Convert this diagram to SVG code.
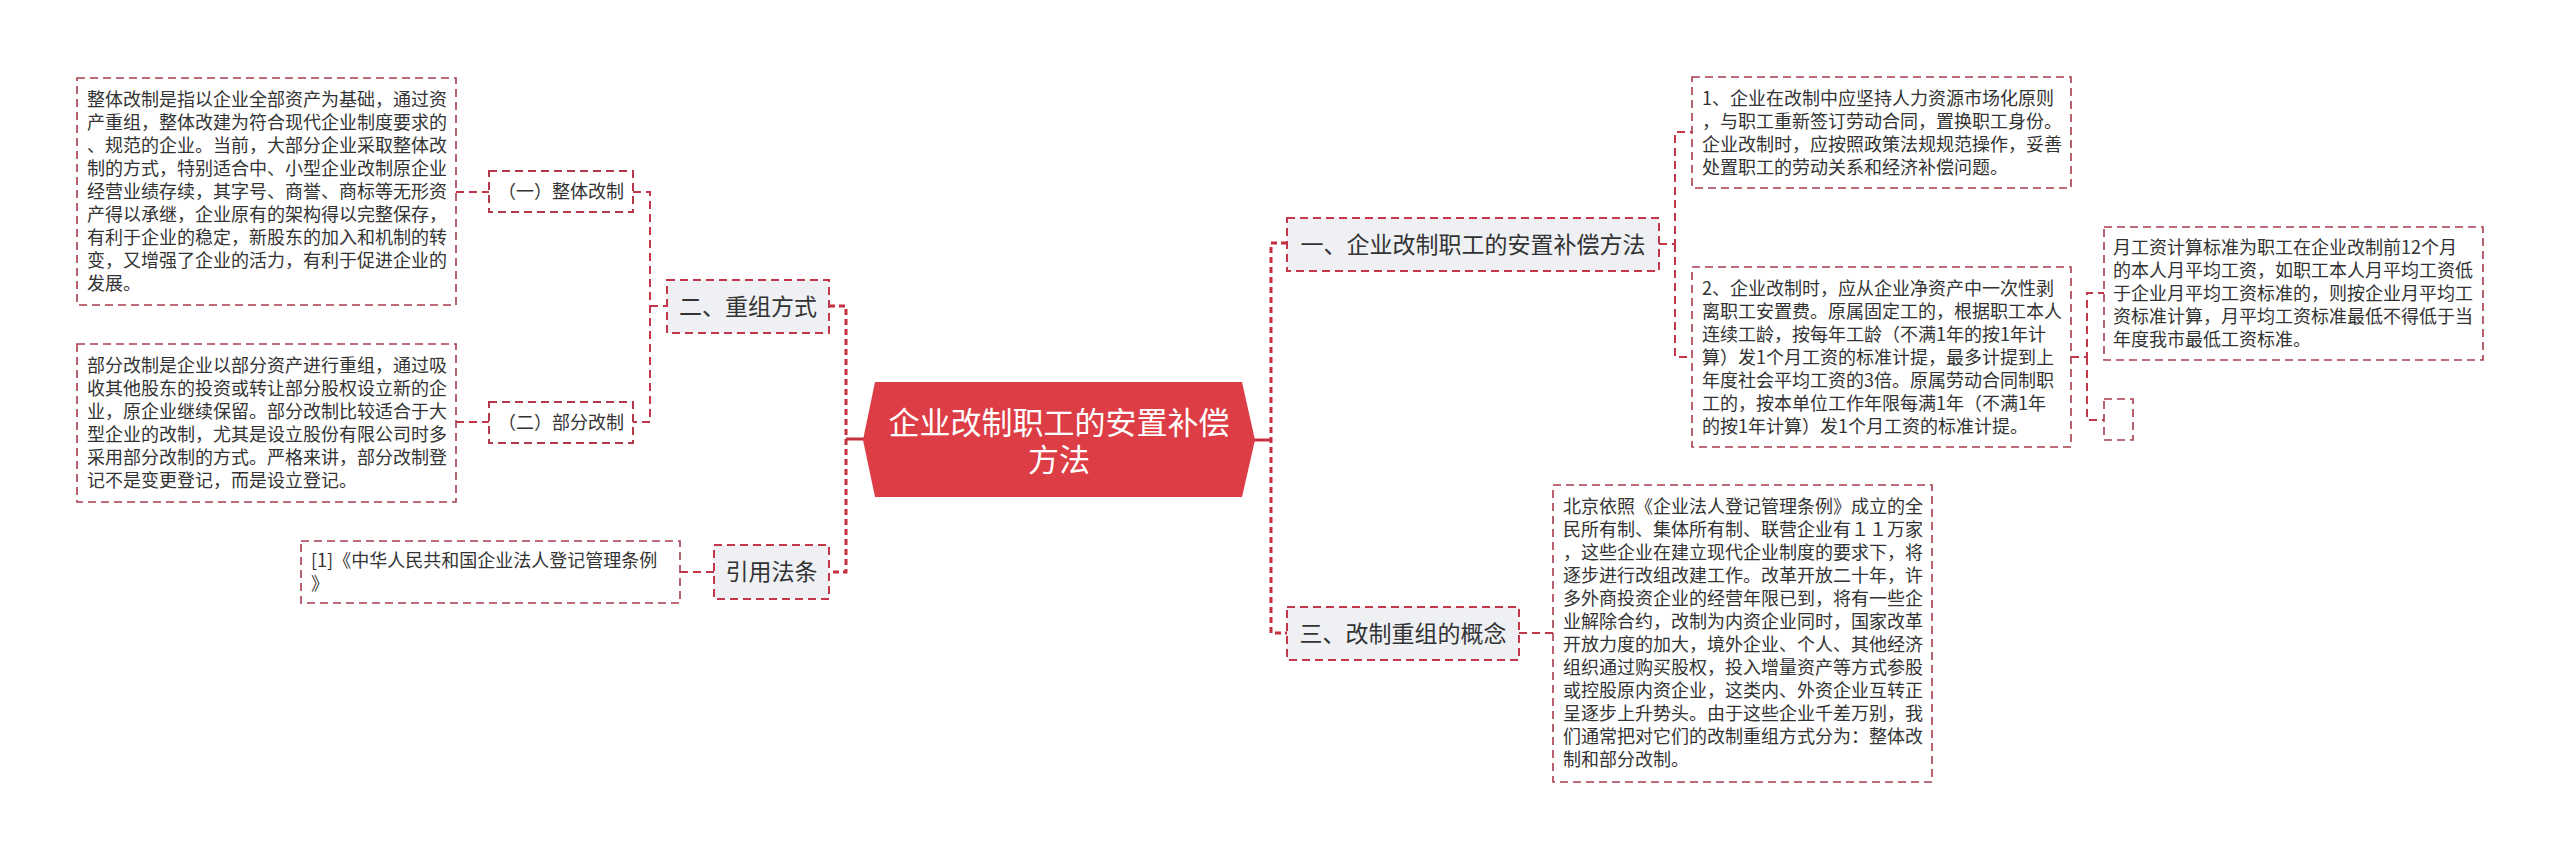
<svg xmlns="http://www.w3.org/2000/svg" width="2560" height="859" viewBox="0 0 2560 859">
<style>
  .bg{fill:#ffffff}
  .c1{fill:none;stroke:#C62F3D;stroke-width:3;stroke-dasharray:6 4}
  .cs{fill:none;stroke:#C62F3D;stroke-width:3}
  .c2{fill:none;stroke:#C2384A;stroke-width:2;stroke-dasharray:8 5}
  .main rect{fill:#EEF0F4;stroke:#C2384A;stroke-width:2;stroke-dasharray:8 5}
  .leaf rect{fill:#ffffff;stroke:#A83C4C;stroke-width:1.6;stroke-dasharray:8 5}
  .sub rect{fill:#ffffff;stroke:#B5384A;stroke-width:2;stroke-dasharray:8 5}
  .t18{font-family:"Noto Sans CJK SC","Noto Sans",sans-serif;font-size:18px;fill:#333333}
  .t23{font-family:"Noto Sans CJK SC","Noto Sans",sans-serif;font-size:23px;fill:#333333}
  .tc{font-family:"Noto Sans CJK SC","Noto Sans",sans-serif;font-size:31px;fill:#ffffff}
</style>
<rect class="bg" x="0" y="0" width="2560" height="859"/>

<g id="connectors">
  <path class="c2" d="M456,192 H489"/>
  <path class="c2" d="M633,192 H650 V422 H633"/>
  <path class="c2" d="M650,306 H667"/>
  <path class="c2" d="M456,422 H489"/>
  <path class="c2" d="M680,572 H714"/>
  <path class="c1" d="M829,306 H846 V572 H829"/>
  <path class="cs" d="M846,439 H864"/>
  <path class="cs" d="M1254,440 H1271"/>
  <path class="c1" d="M1287,243 H1271 V633 H1287"/>
  <path class="c2" d="M1659,244 H1675 V132 H1692"/>
  <path class="c2" d="M1675,244 V357 H1692"/>
  <path class="c2" d="M2071,357 H2087 V293 H2104"/>
  <path class="c2" d="M2087,357 V420 H2104"/>
  <path class="c2" d="M1519,633 H1553"/>
</g>

<g id="center">
  <polygon points="875,382 1242,382 1255,440 1242,497 875,497 863,440" fill="#DD3E46"/>
  <text class="tc" text-anchor="middle"><tspan x="1059" y="434">企业改制职工的安置补偿</tspan><tspan x="1059" y="471">方法</tspan></text>
</g>

<g id="node-chongzu" class="main">
  <rect x="667" y="280" width="162" height="53"/>
  <text class="t23" x="748" y="315" text-anchor="middle">二、重组方式</text>
</g>

<g id="node-zhengti" class="sub">
  <rect x="489" y="171" width="144" height="41"/>
  <text class="t18" x="561" y="198" text-anchor="middle">（一）整体改制</text>
</g>

<g id="node-bufen" class="sub">
  <rect x="489" y="402" width="144" height="41"/>
  <text class="t18" x="561" y="429" text-anchor="middle">（二）部分改制</text>
</g>

<g id="leaf-zhengti" class="leaf">
  <rect x="77" y="78" width="379" height="227"/>
  <text class="t18">
    <tspan x="87" y="106">整体改制是指以企业全部资产为基础，通过资</tspan>
    <tspan x="87" y="129">产重组，整体改建为符合现代企业制度要求的</tspan>
    <tspan x="87" y="152">、规范的企业。当前，大部分企业采取整体改</tspan>
    <tspan x="87" y="175">制的方式，特别适合中、小型企业改制原企业</tspan>
    <tspan x="87" y="198">经营业绩存续，其字号、商誉、商标等无形资</tspan>
    <tspan x="87" y="221">产得以承继，企业原有的架构得以完整保存，</tspan>
    <tspan x="87" y="244">有利于企业的稳定，新股东的加入和机制的转</tspan>
    <tspan x="87" y="267">变，又增强了企业的活力，有利于促进企业的</tspan>
    <tspan x="87" y="290">发展。</tspan>
  </text>
</g>

<g id="leaf-bufen" class="leaf">
  <rect x="77" y="344" width="379" height="158"/>
  <text class="t18">
    <tspan x="87" y="372">部分改制是企业以部分资产进行重组，通过吸</tspan>
    <tspan x="87" y="395">收其他股东的投资或转让部分股权设立新的企</tspan>
    <tspan x="87" y="418">业，原企业继续保留。部分改制比较适合于大</tspan>
    <tspan x="87" y="441">型企业的改制，尤其是设立股份有限公司时多</tspan>
    <tspan x="87" y="464">采用部分改制的方式。严格来讲，部分改制登</tspan>
    <tspan x="87" y="487">记不是变更登记，而是设立登记。</tspan>
  </text>
</g>

<g id="node-yinyong" class="main">
  <rect x="714" y="545" width="115" height="54"/>
  <text class="t23" x="771.5" y="580" text-anchor="middle">引用法条</text>
</g>

<g id="leaf-yinyong" class="leaf">
  <rect x="301" y="541" width="379" height="62"/>
  <text class="t18">
    <tspan x="311" y="567">[1]《中华人民共和国企业法人登记管理条例</tspan>
    <tspan x="311" y="590">》</tspan>
  </text>
</g>

<g id="node-anzhi" class="main">
  <rect x="1287" y="218" width="372" height="53"/>
  <text class="t23" x="1473" y="253" text-anchor="middle">一、企业改制职工的安置补偿方法</text>
</g>

<g id="leaf-1" class="leaf">
  <rect x="1692" y="77" width="379" height="111"/>
  <text class="t18">
    <tspan x="1702" y="105">1、企业在改制中应坚持人力资源市场化原则</tspan>
    <tspan x="1702" y="128">，与职工重新签订劳动合同，置换职工身份。</tspan>
    <tspan x="1702" y="151">企业改制时，应按照政策法规规范操作，妥善</tspan>
    <tspan x="1702" y="174">处置职工的劳动关系和经济补偿问题。</tspan>
  </text>
</g>

<g id="leaf-2" class="leaf">
  <rect x="1692" y="267" width="379" height="180"/>
  <text class="t18">
    <tspan x="1702" y="295">2、企业改制时，应从企业净资产中一次性剥</tspan>
    <tspan x="1702" y="318">离职工安置费。原属固定工的，根据职工本人</tspan>
    <tspan x="1702" y="341">连续工龄，按每年工龄（不满1年的按1年计</tspan>
    <tspan x="1702" y="364">算）发1个月工资的标准计提，最多计提到上</tspan>
    <tspan x="1702" y="387">年度社会平均工资的3倍。原属劳动合同制职</tspan>
    <tspan x="1702" y="410">工的，按本单位工作年限每满1年（不满1年</tspan>
    <tspan x="1702" y="433">的按1年计算）发1个月工资的标准计提。</tspan>
  </text>
</g>

<g id="leaf-3" class="leaf">
  <rect x="2104" y="227" width="379" height="133"/>
  <text class="t18">
    <tspan x="2113" y="254">月工资计算标准为职工在企业改制前12个月</tspan>
    <tspan x="2113" y="277">的本人月平均工资，如职工本人月平均工资低</tspan>
    <tspan x="2113" y="300">于企业月平均工资标准的，则按企业月平均工</tspan>
    <tspan x="2113" y="323">资标准计算，月平均工资标准最低不得低于当</tspan>
    <tspan x="2113" y="346">年度我市最低工资标准。</tspan>
  </text>
</g>

<g id="leaf-empty" class="leaf">
  <rect x="2104" y="399" width="29" height="41"/>
</g>

<g id="node-gainian" class="main">
  <rect x="1287" y="607" width="232" height="53"/>
  <text class="t23" x="1403" y="642" text-anchor="middle">三、改制重组的概念</text>
</g>

<g id="leaf-4" class="leaf">
  <rect x="1553" y="485" width="379" height="297"/>
  <text class="t18">
    <tspan x="1563" y="513">北京依照《企业法人登记管理条例》成立的全</tspan>
    <tspan x="1563" y="536">民所有制、集体所有制、联营企业有１１万家</tspan>
    <tspan x="1563" y="559">，这些企业在建立现代企业制度的要求下，将</tspan>
    <tspan x="1563" y="582">逐步进行改组改建工作。改革开放二十年，许</tspan>
    <tspan x="1563" y="605">多外商投资企业的经营年限已到，将有一些企</tspan>
    <tspan x="1563" y="628">业解除合约，改制为内资企业同时，国家改革</tspan>
    <tspan x="1563" y="651">开放力度的加大，境外企业、个人、其他经济</tspan>
    <tspan x="1563" y="674">组织通过购买股权，投入增量资产等方式参股</tspan>
    <tspan x="1563" y="697">或控股原内资企业，这类内、外资企业互转正</tspan>
    <tspan x="1563" y="720">呈逐步上升势头。由于这些企业千差万别，我</tspan>
    <tspan x="1563" y="743">们通常把对它们的改制重组方式分为：整体改</tspan>
    <tspan x="1563" y="766">制和部分改制。</tspan>
  </text>
</g>
</svg>
